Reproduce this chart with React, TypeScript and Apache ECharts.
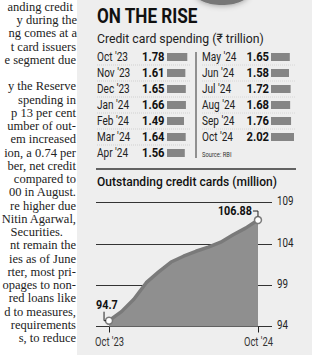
import React, { useEffect, useRef } from "react";
import * as echarts from "echarts";

const spendMonthsLeft = ["Oct '23", "Nov '23", "Dec '23", "Jan '24", "Feb '24", "Mar '24", "Apr '24"];
const spendValuesLeft = [1.78, 1.61, 1.65, 1.66, 1.49, 1.64, 1.56];
const spendMonthsRight = ["May '24", "Jun '24", "Jul '24", "Aug '24", "Sep '24", "Oct '24"];
const spendValuesRight = [1.65, 1.58, 1.72, 1.68, 1.76, 2.02];

const cardMonths = ["Oct '23", "Nov '23", "Dec '23", "Jan '24", "Feb '24", "Mar '24", "Apr '24", "May '24", "Jun '24", "Jul '24", "Aug '24", "Sep '24", "Oct '24"];
const cardValues = [94.7, 95.8, 97.3, 99.3, 100.6, 101.8, 102.5, 103.1, 103.6, 104.2, 105.1, 105.9, 106.88];
const cardTicks = [94, 99, 104, 109];
const cardLabelIdx = [0, 12];

const bodyLines = [
  "anding credit", "y during the", "ng comes at a", "t card issuers", "e segment due",
  "",
  "y the Reserve", "spending in", "p 13 per cent", "umber of out-", "em increased", "ion, a 0.74 per", "ber, net credit", "compared to", "00 in August.", "re higher due", "Nitin Agarwal,", "Securities.",
  "nt remain the", "ies as of June", "rter, most pri-", "opages to non-", "red loans like", "d to measures,", "requirements", "s, to reduce",
];
const bodyRightEdge = [73, 77, 77, 76, 76, 0, 76, 76, 76, 76, 76, 76, 76, 76, 76, 76, 76, 63, 76, 76, 76, 76, 76, 76, 76, 76];

const SANS = "Roboto, 'Noto Sans', 'DejaVu Sans', sans-serif";

function measure(text: string, font: string): number {
  const c = document.createElement("canvas").getContext("2d")!;
  c.font = font;
  return c.measureText(text).width;
}

export default function App() {
  const ref = useRef<HTMLDivElement>(null);
  useEffect(() => {
    const chart = echarts.init(ref.current!, null, { renderer: "svg" });
    const rowH = 16;
    const tableTop = 49;
    const barMax = 2.5;
    const barW = 28.5;

    chart.setOption({
      animation: false,
      backgroundColor: "#ffffff",
      grid: [
        { left: 167, top: tableTop, width: barW, height: rowH * spendMonthsLeft.length },
        { left: 271, top: tableTop, width: barW, height: rowH * spendMonthsRight.length },
        { left: 96, top: 202.5, width: 176, height: 124 },
      ],
      xAxis: [
        { gridIndex: 0, type: "value", min: 0, max: barMax, show: false },
        { gridIndex: 1, type: "value", min: 0, max: barMax, show: false },
        {
          gridIndex: 2, type: "value", min: -1.05, max: 13.13,
          axisLine: { show: false },
          splitLine: { show: false },
          axisTick: { show: true, customValues: cardLabelIdx, length: 6, lineStyle: { color: "#222", width: 1 } },
          axisLabel: { show: false, customValues: cardLabelIdx },
        },
      ],
      yAxis: [
        {
          gridIndex: 0, type: "category", inverse: true, data: spendMonthsLeft,
          axisLine: { show: false }, axisTick: { show: false }, axisLabel: { show: false },
        },
        {
          gridIndex: 1, type: "category", inverse: true, data: spendMonthsRight,
          axisLine: { show: false }, axisTick: { show: false }, axisLabel: { show: false },
        },
        { gridIndex: 2, type: "value", min: 94, max: 109, show: false },
      ],
      series: [
        { type: "bar", xAxisIndex: 0, yAxisIndex: 0, data: spendValuesLeft, barWidth: 8, itemStyle: { color: "#858585" } },
        { type: "bar", xAxisIndex: 1, yAxisIndex: 1, data: spendValuesRight, barWidth: 8, itemStyle: { color: "#858585" } },
        {
          type: "line", xAxisIndex: 2, yAxisIndex: 2, z: 1,
          data: cardValues.map((v, i) => [i, v]),
          symbol: "none", lineStyle: { opacity: 0 }, silent: true,
          markLine: {
            silent: true, symbol: "none", z: 1,
            lineStyle: { color: "#333", width: 1, type: "solid" },
            label: { show: false },
            data: cardTicks.map((t) => ({ yAxis: t })),
          },
        },
        {
          type: "line", xAxisIndex: 2, yAxisIndex: 2, z: 3,
          data: cardValues.map((v, i) => {
            const end = i === 0 || i === cardValues.length - 1;
            return end
              ? { value: [i, v], symbol: "circle", symbolSize: 7, itemStyle: { color: "#fff", borderColor: "#7a7a7a", borderWidth: 1.5 } }
              : { value: [i, v], symbol: "none" };
          }),
          showSymbol: true,
          lineStyle: { color: "#7a7a7a", width: 3.5 },
          areaStyle: { color: "#8f8f8f", opacity: 1, origin: "start" },
        },
      ],
    });

    const monthFont = `13px ${SANS}`;
    const condF = 31 / measure("Oct '23", monthFont);
    const valFont = `bold 13px ${SANS}`;
    const valF = 22.6 / measure("1.78", valFont);
    const axisFont = `12.5px ${SANS}`;
    const axisF = 16.5 / measure("109", axisFont);
    const xFont = `12px ${SANS}`;
    const xF = 29 / measure("Oct '23", xFont);

    const txt = (text: string, x: number, y: number, font: string, sx: number, align = "left", fill = "#222", z = 5) => ({
      type: "text", x, y, scaleX: sx, z,
      style: { text, x: 0, y: 0, font, fill, textAlign: align, textVerticalAlign: "middle" },
    });

    const graphics: any[] = [
      { type: "rect", z: -10, shape: { x: 77, y: 0, width: 235, height: 355 }, style: { fill: "#eeeeee" } },
      { type: "ellipse", z: -9, shape: { cx: 222, cy: -6, rx: 26, ry: 11 }, style: { fill: "#777", shadowBlur: 6, shadowColor: "rgba(0,0,0,0.4)" } },
      { type: "line", shape: { x1: 196, y1: 52, x2: 196, y2: 158 }, style: { stroke: "#333", lineWidth: 1 } },
      { type: "line", shape: { x1: 96, y1: 169, x2: 296, y2: 169 }, style: { stroke: "#333", lineWidth: 1.5 } },
    ];

    const titleFont = `bold 20px ${SANS}`;
    graphics.push(txt("ON THE RISE", 97, 16.5, titleFont, 101 / measure("ON THE RISE", titleFont), "left", "#111"));
    const subText = "Credit card spending (₹ trillion)";
    const subFont = `13px ${SANS}`;
    graphics.push(txt(subText, 97, 38, subFont, 167 / measure(subText, subFont), "left", "#222"));
    const sub2Text = "Outstanding credit cards (million)";
    const sub2Font = `500 13px ${SANS}`;
    graphics.push(txt(sub2Text, 97, 181, sub2Font, 180 / measure(sub2Text, sub2Font), "left", "#111"));
    graphics.push(txt("Source: RBI", 202, 155, `7.5px ${SANS}`, condF, "left", "#333"));

    // table rows, positioned by the category axes
    spendMonthsLeft.forEach((m, i) => {
      const y = (chart.convertToPixel({ yAxisIndex: 0 }, m) as number);
      graphics.push(txt(m, 97, y, monthFont, condF, "left", "#222"));
      graphics.push(txt(spendValuesLeft[i].toFixed(2), 164.5, y, valFont, valF, "right", "#111"));
    });
    spendMonthsRight.forEach((m, i) => {
      const y = (chart.convertToPixel({ yAxisIndex: 1 }, m) as number);
      graphics.push(txt(m, 202, y, monthFont, condF, "left", "#222"));
      graphics.push(txt(spendValuesRight[i].toFixed(2), 269, y, valFont, valF, "right", "#111"));
    });
    for (let k = 1; k < spendMonthsLeft.length; k++) {
      graphics.push({ type: "line", z: -5, shape: { x1: 97, y1: tableTop + rowH * k, x2: 190, y2: tableTop + rowH * k }, style: { stroke: "#c8c8c8", lineWidth: 0.8, lineDash: [1, 1] } });
    }
    for (let k = 1; k < spendMonthsRight.length; k++) {
      graphics.push({ type: "line", z: -5, shape: { x1: 202, y1: tableTop + rowH * k, x2: 296, y2: tableTop + rowH * k }, style: { stroke: "#d0d0d0", lineWidth: 0.8, lineDash: [1, 1] } });
    }

    // line chart axis labels
    cardTicks.forEach((t) => {
      const p = chart.convertToPixel({ gridIndex: 2 }, [13.13, t]) as number[];
      graphics.push(txt(String(t), p[0] + 5, p[1] - 1, axisFont, axisF, "left", "#222"));
    });
    cardLabelIdx.forEach((i) => {
      const p = chart.convertToPixel({ gridIndex: 2 }, [i, 94]) as number[];
      graphics.push(txt(cardMonths[i], p[0] + 0.5, p[1] + 16, xFont, xF, "center", "#333"));
    });

    // end annotations
    const p0 = chart.convertToPixel({ gridIndex: 2 }, [0, cardValues[0]]) as number[];
    const last = cardValues.length - 1;
    const pN = chart.convertToPixel({ gridIndex: 2 }, [last, cardValues[last]]) as number[];
    const annFont = `bold 12.5px ${SANS}`;
    graphics.push(txt(String(cardValues[0]), p0[0] - 13, p0[1] - 16, annFont, valF, "left", "#111", 10));
    graphics.push({ type: "polyline", z: 10, shape: { points: [[p0[0] - 5, p0[1] - 9], [p0[0] - 5, p0[1]], [p0[0] - 3, p0[1]]] }, style: { stroke: "#222", lineWidth: 1, fill: "none" } });
    graphics.push(txt(String(cardValues[last]), pN[0] - 6, pN[1] - 9, annFont, valF, "right", "#111", 10));
    graphics.push({ type: "polyline", z: 10, shape: { points: [[pN[0] - 5, pN[1] - 9], [pN[0], pN[1] - 9], [pN[0], pN[1] - 3.5]] }, style: { stroke: "#222", lineWidth: 1, fill: "none" } });

    const firstY = 7;
    const lineH = (338 - firstY) / (bodyLines.length - 1);
    bodyLines.forEach((t, i) => {
      if (!t) return;
      graphics.push({
        type: "text", x: bodyRightEdge[i], y: firstY + lineH * i,
        style: { text: t, x: 0, y: 0, font: `12.5px 'Liberation Serif', 'DejaVu Serif', serif`, fill: "#222", textAlign: "right", textVerticalAlign: "middle" },
      });
    });

    chart.setOption({ graphic: graphics });
    return () => chart.dispose();
  }, []);
  return <div ref={ref} style={{ position: "absolute", left: 0, top: 0, width: 322, height: 360 }} />;
}
